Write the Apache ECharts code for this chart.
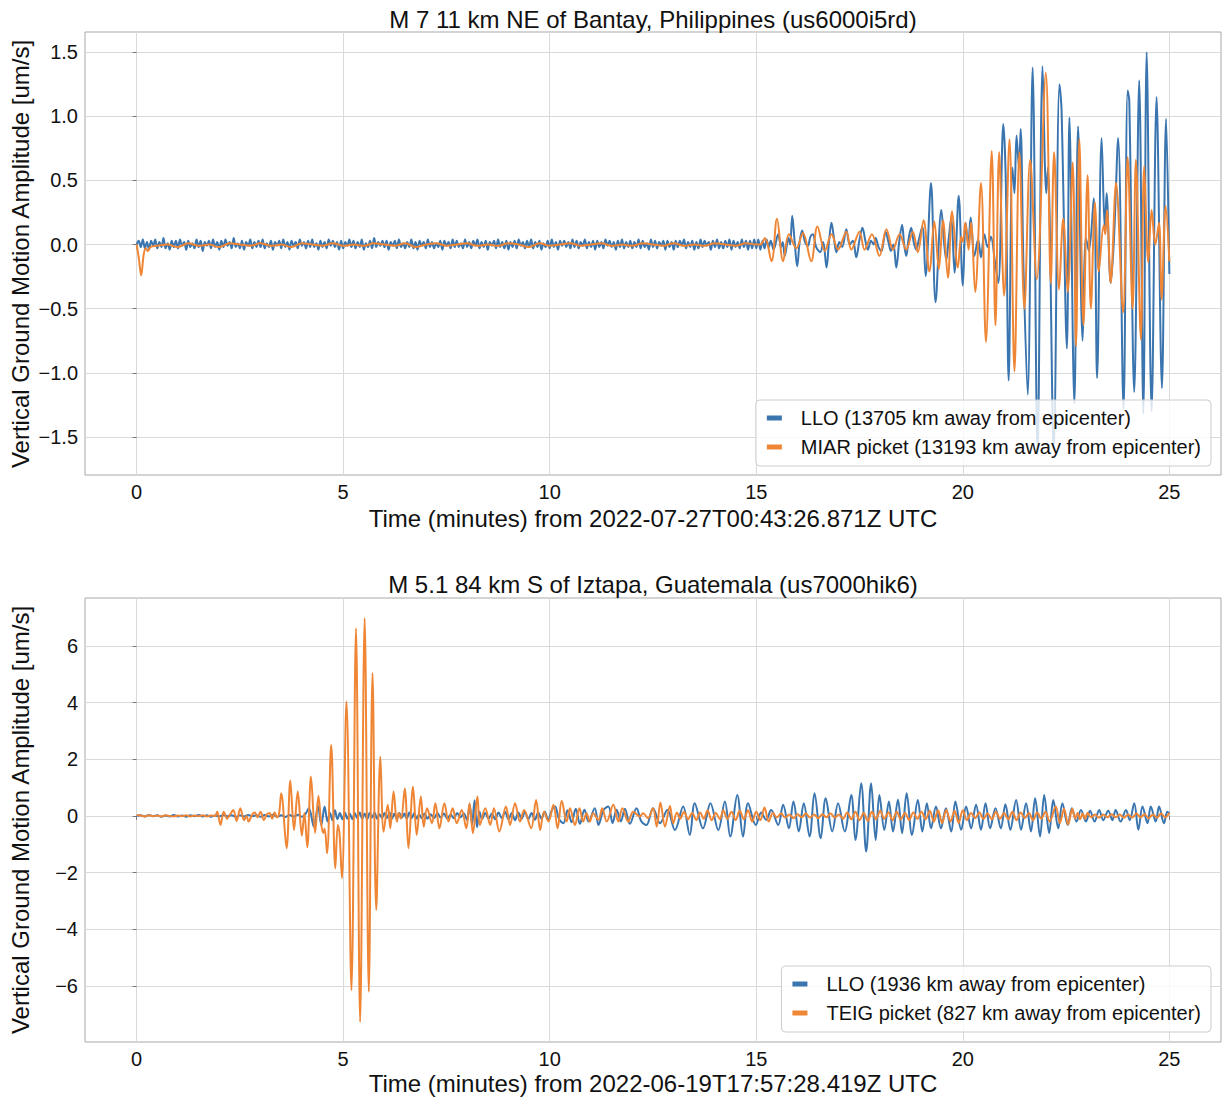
<!DOCTYPE html>
<html><head><meta charset="utf-8">
<script src="https://cdn.jsdelivr.net/npm/echarts@6/dist/echarts.min.js"></script>
<style>html,body{margin:0;padding:0;background:#fff;}#c{width:1225px;height:1097px;}</style>
</head><body><div id="c"></div>
<script>
// ---------------- DATA ----------------
const title1 = 'M 7 11 km NE of Bantay, Philippines (us6000i5rd)';
const title2 = 'M 5.1 84 km S of Iztapa, Guatemala (us7000hik6)';
const xLabel1 = 'Time (minutes) from 2022-07-27T00:43:26.871Z UTC';
const xLabel2 = 'Time (minutes) from 2022-06-19T17:57:28.419Z UTC';
const yLabel = 'Vertical Ground Motion Amplitude [um/s]';
const topNames = ['LLO (13705 km away from epicenter)', 'MIAR picket (13193 km away from epicenter)'];
const botNames = ['LLO (1936 km away from epicenter)', 'TEIG picket (827 km away from epicenter)'];
const xTicks = [0, 5, 10, 15, 20, 25];
const topYTicks = [-1.5, -1.0, -0.5, 0.0, 0.5, 1.0, 1.5];
const botYTicks = [-6, -4, -2, 0, 2, 4, 6];

// Top, LLO: quiet part sampled every 0.05 min from t=0
const topLloQuietStep = 0.05;
const topLloQuiet = [
0.00,0.03,-0.02,0.04,-0.03,0.02,-0.04,0.03,-0.01,0.04,-0.03,0.02,-0.02,0.05,-0.03,0.01,-0.04,0.03,-0.02,0.03,
-0.03,0.04,-0.01,0.02,-0.04,0.03,-0.02,0.01,-0.03,0.04,-0.02,0.03,-0.05,0.02,-0.01,0.03,-0.03,0.04,-0.02,0.02,
-0.04,0.03,-0.02,0.04,-0.01,0.02,-0.03,0.05,-0.02,0.01,-0.03,0.03,-0.04,0.02,-0.01,0.04,-0.03,0.02,-0.02,0.03,
-0.02,0.04,-0.03,0.01,-0.02,0.03,-0.04,0.02,-0.01,0.03,-0.03,0.04,-0.02,0.02,-0.04,0.03,-0.01,0.02,-0.03,0.04,
-0.01,0.02,-0.03,0.03,-0.02,0.04,-0.02,0.01,-0.04,0.03,-0.02,0.02,-0.03,0.04,-0.01,0.03,-0.02,0.02,-0.04,0.03,
-0.03,0.02,-0.01,0.04,-0.02,0.03,-0.03,0.02,-0.02,0.04,-0.04,0.01,-0.02,0.03,-0.03,0.05,-0.02,0.02,-0.01,0.03,
-0.02,0.03,-0.04,0.02,-0.01,0.03,-0.03,0.04,-0.02,0.01,-0.03,0.02,-0.02,0.04,-0.03,0.02,-0.04,0.03,-0.01,0.02,
-0.03,0.04,-0.02,0.02,-0.03,0.01,-0.02,0.03,-0.04,0.03,-0.01,0.02,-0.03,0.04,-0.02,0.03,-0.02,0.01,-0.03,0.04,
-0.02,0.02,-0.03,0.03,-0.01,0.04,-0.03,0.02,-0.02,0.03,-0.04,0.02,-0.01,0.03,-0.03,0.04,-0.02,0.02,-0.03,0.03,
-0.04,0.02,-0.02,0.03,-0.03,0.04,-0.01,0.02,-0.03,0.03,-0.02,0.04,-0.03,0.02,-0.02,0.03,-0.04,0.01,-0.02,0.03,
-0.03,0.04,-0.02,0.02,-0.04,0.03,-0.01,0.03,-0.02,0.02,-0.03,0.04,-0.02,0.03,-0.03,0.02,-0.01,0.04,-0.03,0.02,
-0.02,0.03,-0.04,0.03,-0.02,0.02,-0.03,0.04,-0.01,0.03,-0.02,0.02,-0.04,0.03,-0.02,0.04,-0.03,0.02,-0.02,0.03,
-0.03,0.02,-0.02,0.04,-0.03,0.03,-0.02,0.01,-0.04,0.04,-0.02,0.03,-0.03,0.02,-0.01,0.03,-0.04,0.03,-0.02,0.02,
-0.04,0.03,-0.02,0.03,-0.01,0.04,-0.03,0.02,-0.02,0.03,-0.04,0.02,-0.03,0.04,-0.02,0.03,-0.01,0.02,-0.04,0.03,
-0.02,0.04,-0.03,0.02,-0.03,0.03,-0.02,0.04,-0.04,0.03,-0.02,0.02,-0.03,0.04,-0.02,0.03,-0.04,0.03,-0.03,0.04,
-0.03,0.04,-0.04,0.03,-0.03,0.04,-0.02
];
// Top, LLO: active part, [minutes, um/s] at peaks and troughs
const topLloActive = [
[15.35,0.03],[15.42,-0.04],[15.53,0.08],[15.60,-0.02],[15.64,0.02],[15.69,-0.09],[15.78,0.05],[15.82,0.00],[15.87,0.225],[15.93,0.02],
[15.99,-0.17],[16.05,0.02],[16.11,0.11],[16.18,0.02],[16.25,-0.01],[16.31,0.06],[16.37,0.08],[16.45,-0.02],[16.55,-0.06],[16.62,0.02],
[16.70,-0.18],[16.76,0.02],[16.82,0.17],[16.88,0.05],[16.94,-0.06],[17.01,0.02],[17.08,-0.02],[17.18,0.12],[17.26,0.00],[17.34,0.03],
[17.42,-0.10],[17.50,0.04],[17.57,0.13],[17.64,0.03],[17.70,-0.04],[17.78,0.03],[17.84,0.00],[17.89,0.05],[17.96,-0.02],[18.03,-0.05],
[18.08,0.02],[18.13,0.10],[18.20,0.02],[18.26,-0.05],[18.32,0.00],[18.39,-0.18],[18.46,0.02],[18.53,0.155],[18.58,0.00],[18.63,-0.09],
[18.69,0.05],[18.75,0.13],[18.81,0.02],[18.87,-0.04],[18.93,0.03],[19.02,0.14],[19.10,-0.245],[19.23,0.48],[19.34,-0.45],[19.48,0.27],
[19.55,0.00],[19.60,-0.12],[19.66,0.05],[19.72,0.21],[19.80,-0.22],[19.90,0.38],[20.00,-0.32],[20.07,0.17],[20.13,0.00],[20.19,0.21],
[20.28,-0.09],[20.37,0.04],[20.44,-0.10],[20.52,0.08],[20.60,-0.02],[20.68,0.06],[20.78,-0.14],[20.86,-0.30],[20.98,0.94],[21.04,0.50],
[21.11,-1.06],[21.20,0.60],[21.25,0.40],[21.30,0.85],[21.36,0.60],[21.40,0.90],[21.47,-0.20],[21.57,-1.17],[21.69,1.38],[21.81,-1.64],
[21.93,1.39],[22.02,0.40],[22.06,0.60],[22.20,-1.60],[22.34,1.25],[22.39,1.05],[22.52,-0.81],[22.58,0.99],[22.70,-1.24],[22.79,0.92],
[22.90,-0.75],[22.98,0.05],[23.05,-0.05],[23.17,0.36],[23.25,-1.04],[23.36,0.83],[23.44,0.10],[23.48,0.40],[23.58,-0.30],[23.66,0.05],
[23.76,0.83],[23.89,-1.28],[23.99,1.20],[24.03,1.12],[24.15,-1.15],[24.27,1.28],[24.37,-1.32],[24.45,1.50],[24.57,-1.30],[24.69,1.15],
[24.82,-1.12],[24.92,0.98],[25.00,-0.23]
];

// Top, MIAR picket
const topMiarHead = [[0,0],[0.05,-0.10],[0.11,-0.24],[0.17,-0.08],[0.22,-0.03],[0.27,-0.05],[0.33,-0.02]];
const topMiarQuietStart = 0.5;
const topMiarQuietStep = 0.25;
const topMiarQuiet = [
-0.01,0.00,-0.02,0.01,-0.01,0.00,-0.02,0.01,0.00,-0.01,
0.01,-0.01,0.00,-0.02,0.01,0.00,-0.01,0.01,-0.01,0.00,
-0.01,0.01,0.00,-0.01,0.01,-0.02,0.00,0.01,-0.01,0.00,
0.01,-0.01,0.00,-0.01,0.01,0.00,-0.02,0.01,-0.01,0.00,
0.01,-0.01,0.00,0.01,-0.01,0.00,-0.01,0.01,0.00,-0.01,
0.01,-0.01,0.00,-0.01,0.01,0.00,-0.01,0.01,0.00
];
const topMiarActive = [
[15.10,0.00],[15.21,0.05],[15.37,-0.13],[15.50,0.20],[15.65,-0.13],[15.79,0.08],[15.97,-0.03],[16.13,0.09],[16.33,-0.13],[16.48,0.14],
[16.66,-0.05],[16.82,0.08],[16.98,-0.04],[17.18,0.10],[17.30,-0.04],[17.50,0.10],[17.62,-0.04],[17.80,0.08],[17.98,-0.09],[18.15,0.12],
[18.31,-0.04],[18.47,0.08],[18.63,-0.04],[18.79,0.10],[18.91,-0.06],[19.05,0.19],[19.19,-0.21],[19.31,0.18],[19.42,-0.19],[19.52,0.19],
[19.64,-0.26],[19.74,0.26],[19.88,-0.18],[19.96,0.06],[20.00,0.02],[20.06,0.17],[20.14,-0.04],[20.20,0.17],[20.30,-0.37],[20.44,0.48],
[20.56,-0.76],[20.70,0.73],[20.79,-0.63],[20.88,0.72],[21.00,-0.40],[21.13,0.82],[21.25,-0.99],[21.37,0.72],[21.49,-0.50],[21.63,0.66],
[21.79,-0.27],[22.01,1.34],[22.13,-0.30],[22.21,0.72],[22.33,-0.35],[22.43,0.20],[22.54,-0.37],[22.66,0.64],[22.74,-0.79],[22.82,0.82],
[22.92,-0.63],[23.02,0.54],[23.10,-0.50],[23.20,0.33],[23.29,-0.21],[23.41,0.15],[23.45,0.08],[23.49,0.27],[23.58,-0.30],[23.71,0.48],
[23.88,-0.53],[23.99,0.68],[24.11,-0.50],[24.19,0.66],[24.31,-0.74],[24.39,0.61],[24.49,-0.14],[24.57,0.27],[24.66,0.00],[24.75,0.17],
[24.81,-0.43],[24.91,0.30],[25.00,-0.13]
];

// Bottom, LLO
const botLloQuietStep = 0.1;
const botLloQuiet = [
0.00,0.02,-0.02,0.03,-0.01,0.02,-0.03,0.01,-0.02,0.03,
-0.02,0.01,-0.03,0.02,-0.01,0.03,-0.02,0.02,-0.03,0.01,
-0.02,0.03,-0.01,0.02,-0.03,0.02,-0.02,0.03,-0.01,0.02,
-0.03,0.03,-0.02,0.04,-0.03,0.02,-0.04,0.03,-0.02,0.04,-0.03
];
const botLloActive = [
[4.08,0.05],[4.17,0.27],[4.29,-0.38],[4.39,0.35],[4.47,-0.32],[4.55,0.33],[4.62,-0.20],[4.68,0.10],[4.74,-0.15],[4.80,0.20],
[4.86,-0.12],[4.92,0.10],[4.98,-0.12],[5.04,0.12],[5.10,-0.10],[5.16,0.08],[5.22,-0.12],[5.28,0.10],[5.34,-0.08],[5.40,0.12],
[5.46,-0.10],[5.52,0.08],[5.58,-0.12],[5.64,0.10],[5.70,-0.06],[5.76,0.12],[5.82,-0.10],[5.88,0.06],[5.94,-0.08],[6.00,0.10],
[6.06,-0.08],[6.12,0.12],[6.18,-0.10],[6.24,0.08],[6.30,-0.12],[6.36,0.10],[6.42,-0.06],[6.48,0.08],[6.54,-0.10],[6.60,0.12],
[6.66,-0.08],[6.72,0.10],[6.78,-0.10],[6.84,0.06],[6.90,-0.08],[6.97,0.08],[7.04,-0.10],[7.12,0.06],[7.20,-0.08],[7.28,0.10],
[7.36,-0.06],[7.44,0.08],[7.52,-0.10],[7.60,0.05],[7.68,-0.08],[7.76,0.10],[7.84,-0.05],[7.92,0.08],[8.00,-0.15],[8.06,0.40],
[8.12,-0.30],[8.18,0.55],[8.24,-0.40],[8.30,0.15],[8.36,-0.12],[8.44,0.10],[8.52,-0.10],[8.60,0.08],[8.68,-0.12],[8.76,0.12],
[8.84,-0.08],[8.92,0.15],[9.00,-0.12],[9.08,0.10],[9.16,-0.15],[9.24,0.12],[9.32,-0.10],[9.40,0.14],[9.48,-0.12],[9.56,0.10],
[9.64,-0.14],[9.72,0.12],[9.80,-0.10],[9.88,0.15],[9.96,-0.15],[10.05,0.20],[10.13,0.33],[10.22,-0.10],[10.33,-0.26],[10.43,0.20],
[10.53,-0.22],[10.63,0.25],[10.73,-0.28],[10.84,0.22],[10.94,-0.20],[11.09,0.27],[11.18,-0.32],[11.30,0.20],[11.42,0.33],[11.52,-0.25],
[11.62,0.22],[11.72,-0.20],[11.82,0.25],[11.94,-0.28],[12.10,0.27],[12.22,-0.20],[12.34,-0.32],[12.50,0.27],[12.67,-0.26],[12.85,0.22],
[13.03,-0.50],[13.23,0.33],[13.39,-0.67],[13.51,0.45],[13.71,-0.44],[13.89,0.45],[14.08,-0.50],[14.24,0.51],[14.37,-0.73],[14.54,0.74],
[14.68,-0.73],[14.80,0.45],[14.99,-0.32],[15.12,0.12],[15.24,-0.14],[15.36,0.21],[15.53,-0.32],[15.65,0.39],[15.79,-0.44],[15.90,0.51],
[16.03,-0.55],[16.15,0.45],[16.29,-0.73],[16.41,0.80],[16.56,-0.79],[16.68,0.62],[16.84,-0.55],[16.98,0.45],[17.14,-0.55],[17.30,0.74],
[17.40,-0.85],[17.54,1.15],[17.66,-1.26],[17.78,1.15],[17.89,-0.85],[17.98,0.74],[18.10,-0.50],[18.21,0.51],[18.31,-0.55],[18.43,0.57],
[18.53,-0.61],[18.64,0.80],[18.77,-0.67],[18.91,0.56],[19.02,-0.55],[19.13,0.45],[19.23,-0.44],[19.35,0.33],[19.47,-0.44],[19.59,0.27],
[19.72,-0.55],[19.82,0.51],[19.96,-0.49],[20.08,0.33],[20.20,-0.44],[20.32,0.39],[20.44,-0.49],[20.55,0.45],[20.66,-0.44],[20.79,0.27],
[20.92,-0.44],[21.03,0.41],[21.15,-0.49],[21.29,0.56],[21.41,-0.49],[21.53,0.45],[21.65,-0.55],[21.75,0.62],[21.87,-0.73],[21.97,0.74],
[22.09,-0.61],[22.19,0.56],[22.31,-0.44],[22.41,0.45],[22.54,-0.32],[22.64,0.27],[22.75,-0.20],[22.86,0.21],[22.98,-0.20],[23.08,0.18],
[23.19,-0.20],[23.30,0.21],[23.40,-0.15],[23.52,0.18],[23.62,-0.15],[23.70,0.21],[23.82,-0.20],[23.95,0.21],[24.04,-0.15],[24.15,0.45],
[24.25,-0.49],[24.35,0.33],[24.47,-0.26],[24.55,0.33],[24.67,-0.20],[24.75,0.33],[24.87,-0.26],[24.95,0.15],[25.00,0.10]
];

// Bottom, TEIG picket
const botTeigQuietStep = 0.1;
const botTeigQuiet = [0.03,0.01,-0.02,0.02,-0.01,0.01,-0.02,0.02,0.00,-0.02,0.01,-0.01,0.02,-0.02,0.01,-0.01,0.02,-0.02,0.01,0.00];
const botTeigActive = [
[1.95,0.15],[2.03,-0.32],[2.11,0.15],[2.19,-0.10],[2.26,0.05],[2.34,0.21],[2.42,-0.18],[2.51,0.27],[2.60,-0.15],[2.66,0.00],
[2.71,-0.20],[2.80,0.05],[2.86,0.12],[2.93,-0.05],[3.00,0.15],[3.08,-0.15],[3.15,0.05],[3.22,0.10],[3.28,-0.10],[3.34,0.12],
[3.40,-0.05],[3.45,0.10],[3.50,0.80],[3.63,-1.14],[3.72,1.25],[3.81,-0.50],[3.90,0.86],[4.00,-0.70],[4.06,0.10],[4.13,-1.11],
[4.22,1.39],[4.32,-0.60],[4.40,0.70],[4.47,-0.30],[4.52,-0.60],[4.55,-0.45],[4.61,-1.32],[4.71,2.50],[4.81,-1.85],[4.87,-0.32],
[4.91,-0.60],[4.97,-2.20],[5.08,4.04],[5.20,-6.15],[5.31,6.62],[5.41,-7.27],[5.52,6.98],[5.62,-6.21],[5.71,5.04],[5.80,-3.32],
[5.90,2.09],[5.98,-0.56],[6.08,0.39],[6.14,-0.44],[6.22,0.86],[6.30,-0.20],[6.34,0.10],[6.40,-0.10],[6.49,0.97],[6.58,-1.14],
[6.69,1.03],[6.78,-0.67],[6.88,0.68],[6.95,-0.38],[7.03,0.27],[7.15,-0.26],[7.23,0.45],[7.33,-0.44],[7.45,0.45],[7.55,-0.20],
[7.65,0.27],[7.75,-0.26],[7.87,0.21],[7.98,-0.44],[8.06,0.45],[8.14,-0.61],[8.25,0.68],[8.31,-0.32],[8.44,0.27],[8.56,-0.32],
[8.65,0.27],[8.78,-0.55],[8.94,0.33],[9.04,-0.32],[9.16,0.45],[9.28,-0.20],[9.38,0.21],[9.55,-0.44],[9.67,0.56],[9.77,-0.50],
[9.86,0.15],[9.97,-0.20],[10.09,0.39],[10.19,-0.44],[10.29,0.53],[10.41,-0.20],[10.49,0.27],[10.61,-0.32],[10.72,0.27],[10.81,-0.20],
[10.89,0.09],[10.97,-0.20],[11.05,0.09],[11.18,-0.14],[11.27,0.27],[11.38,-0.20],[11.54,0.39],[11.66,-0.20],[11.76,0.27],[11.90,-0.20],
[12.02,0.15],[12.18,-0.02],[12.26,0.09],[12.38,-0.08],[12.50,0.27],[12.59,-0.38],[12.68,0.47],[12.79,-0.38],[12.91,0.35],[12.99,-0.26],
[13.08,0.12],[13.16,-0.10],[13.25,0.15],[13.35,-0.12],[13.45,0.10],[13.55,-0.15],[13.64,0.12],[13.73,-0.10],[13.82,0.20],[13.92,-0.15],
[14.02,0.10],[14.12,-0.12],[14.20,0.20],[14.30,-0.10],[14.40,0.15],[14.50,-0.15],[14.60,0.18],[14.70,-0.12],[14.80,0.20],[14.90,-0.20],
[15.00,0.15],[15.10,-0.15],[15.20,0.30],[15.30,-0.20],[15.40,0.10],[15.50,-0.05],[15.60,0.08],[15.70,-0.06],[15.80,0.05],[15.90,-0.08],
[16.00,0.06],[16.10,-0.05],[16.20,0.08],[16.30,-0.06],[16.40,0.05],[16.50,-0.08],[16.60,0.06],[16.70,-0.05],[16.80,0.08],[16.90,-0.06],
[17.00,0.05],[17.10,-0.10],[17.20,0.12],[17.30,-0.12],[17.40,0.15],[17.50,-0.15],[17.60,0.10],[17.70,-0.18],[17.80,0.15],[17.90,-0.12],
[18.00,0.18],[18.10,-0.10],[18.20,0.12],[18.30,-0.15],[18.40,0.15],[18.50,-0.12],[18.60,0.10],[18.70,-0.15],[18.80,0.12],[18.90,-0.10],
[19.00,0.15],[19.10,-0.12],[19.20,0.18],[19.30,-0.20],[19.40,0.20],[19.50,-0.25],[19.60,0.22],[19.70,-0.20],[19.80,0.18],[19.90,-0.25],
[20.00,0.20],[20.10,-0.15],[20.20,0.10],[20.30,-0.08],[20.40,0.12],[20.50,-0.10],[20.60,0.08],[20.70,-0.12],[20.80,0.15],[20.90,-0.10],
[21.00,0.10],[21.10,-0.12],[21.20,0.15],[21.30,-0.15],[21.40,0.12],[21.50,-0.08],[21.60,0.10],[21.70,-0.15],[21.80,0.12],[21.90,-0.10],
[22.00,0.15],[22.10,-0.20],[22.25,0.33],[22.35,-0.25],[22.45,0.25],[22.55,-0.30],[22.65,0.25],[22.72,-0.10],[22.78,0.10],[22.84,-0.12],
[22.90,0.08],[22.96,-0.10],[23.02,0.10],[23.10,-0.05],[23.20,0.05],[23.30,-0.06],[23.40,0.05],[23.50,-0.05],[23.60,0.06],[23.70,-0.05],
[23.80,0.05],[23.90,-0.06],[24.00,0.05],[24.10,-0.06],[24.20,0.08],[24.30,-0.05],[24.40,0.06],[24.50,-0.08],[24.60,0.05],[24.70,-0.06],
[24.80,0.08],[24.90,-0.05],[25.00,0.10]
];

// ---------------- BUILD ----------------
function stepped(vals, t0, dt) { return vals.map((v, i) => [+(t0 + i * dt).toFixed(3), v]); }
const topLlo = stepped(topLloQuiet, 0, topLloQuietStep).concat(topLloActive);
const topMiar = topMiarHead.concat(stepped(topMiarQuiet, topMiarQuietStart, topMiarQuietStep), topMiarActive);
const botLlo = stepped(botLloQuiet, 0, botLloQuietStep).concat(botLloActive);
const botTeig = stepped(botTeigQuiet, 0, botTeigQuietStep).concat(botTeigActive);

const FONT = '"Liberation Sans", Arial, Helvetica, sans-serif';
const BLUE = '#3a75af', ORANGE = '#ef8636';
const TXT = '#111111';
const minus = s => s.replace('-', '\u2212');

function xAxisOpt(gi) {
  return {
    type: 'value', gridIndex: gi, min: -1.25, max: 26.25, minInterval: 5, maxInterval: 5,
    axisLine: { show: false },
    axisTick: { show: true, length: 4, lineStyle: { color: '#777', width: 1 }, customValues: xTicks },
    axisLabel: { show: true, margin: 7, fontSize: 20, fontFamily: FONT, color: TXT, customValues: xTicks,
      formatter: v => (xTicks.indexOf(Math.round(v * 1000) / 1000) >= 0 ? String(Math.round(v)) : '') },
    splitLine: { show: true, lineStyle: { color: '#dadada', width: 1 } }
  };
}
function yAxisOpt(gi, min, max, step, ticks, dec) {
  return {
    type: 'value', gridIndex: gi, min: min, max: max, minInterval: step, maxInterval: step,
    axisLine: { show: false },
    axisTick: { show: true, length: 4, lineStyle: { color: '#777', width: 1 }, customValues: ticks },
    axisLabel: { show: true, margin: 7, fontSize: 20, fontFamily: FONT, color: TXT, customValues: ticks,
      formatter: v => {
        const r = Math.round(v * 1000) / 1000;
        if (ticks.indexOf(r) < 0) return '';
        return minus(r.toFixed(dec));
      } },
    splitLine: { show: true, lineStyle: { color: '#dadada', width: 1 } }
  };
}
function lineSeries(name, data, color, xi, yi) {
  return { type: 'line', name: name, data: data, xAxisIndex: xi, yAxisIndex: yi,
    showSymbol: false, symbol: 'none', smooth: 0.35, clip: true,
    lineStyle: { color: color, width: 2 }, itemStyle: { color: color },
    emphasis: { disabled: true }, animation: false };
}
function legendOpt(names, top) {
  return {
    data: names, orient: 'vertical', right: 14, top: top,
    icon: 'rect', itemWidth: 15, itemHeight: 5, itemGap: 9,
    itemStyle: { borderWidth: 0 },
    padding: [8, 10, 9, 11],
    backgroundColor: 'rgba(255,255,255,0.8)', borderColor: '#cccccc', borderWidth: 1, borderRadius: 4,
    textStyle: { fontSize: 20, lineHeight: 20, fontFamily: FONT, color: TXT, padding: [0, 0, 0, 14] },
    selectedMode: false
  };
}
function txt(text, x, y, rot) {
  return { type: 'text', x: x, y: y, rotation: rot || 0, z: 10,
    style: { text: text, font: '24px ' + FONT, fontSize: 24, fontFamily: FONT, fill: TXT,
      align: 'center', verticalAlign: 'middle', textAlign: 'center', textVerticalAlign: 'middle' } };
}

const chart = echarts.init(document.getElementById('c'), null, { renderer: 'svg', width: 1225, height: 1097 });
chart.setOption({
  backgroundColor: '#ffffff',
  animation: false,
  grid: [
    { left: 85, top: 32, width: 1136, height: 443, show: true, borderColor: '#a8a8a8', borderWidth: 1, backgroundColor: 'rgba(0,0,0,0)', containLabel: false },
    { left: 85, top: 598, width: 1136, height: 444, show: true, borderColor: '#a8a8a8', borderWidth: 1, backgroundColor: 'rgba(0,0,0,0)', containLabel: false }
  ],
  xAxis: [xAxisOpt(0), xAxisOpt(1)],
  yAxis: [
    yAxisOpt(0, -1.797, 1.657, 0.5, topYTicks, 1),
    yAxisOpt(1, -7.98, 7.69, 2, botYTicks, 0)
  ],
  legend: [legendOpt(topNames, 400), legendOpt(botNames, 966)],
  series: [
    lineSeries(topNames[0], topLlo, BLUE, 0, 0),
    lineSeries(topNames[1], topMiar, ORANGE, 0, 0),
    lineSeries(botNames[0], botLlo, BLUE, 1, 1),
    lineSeries(botNames[1], botTeig, ORANGE, 1, 1)
  ],
  graphic: [
    txt(title1, 653, 19), txt(xLabel1, 653, 518), txt(yLabel, 20, 254, Math.PI / 2),
    txt(title2, 653, 584), txt(xLabel2, 653, 1083), txt(yLabel, 20, 820, Math.PI / 2)
  ]
});
</script></body></html>
